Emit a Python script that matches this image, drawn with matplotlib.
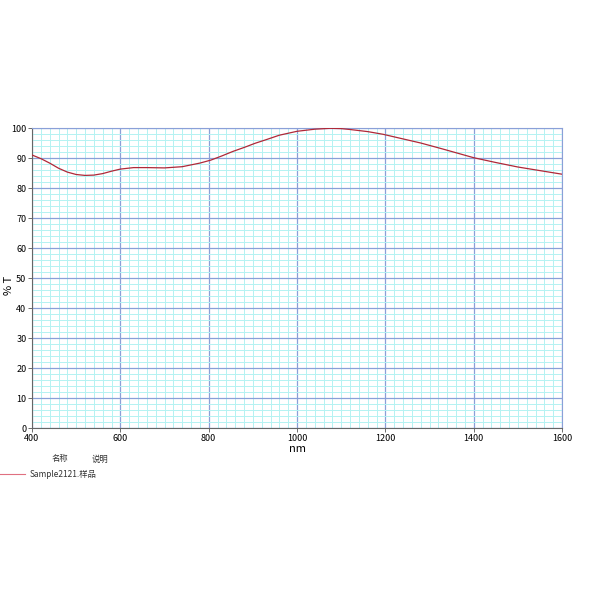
import matplotlib.pyplot as plt
from matplotlib.ticker import MultipleLocator

plt.rcParams['font.family'] = ['Noto Sans CJK SC', 'DejaVu Sans']

# wavelength (nm) and transmittance (%)
wavelength = [400, 420, 440, 460, 480, 500, 520, 540, 560, 580, 600, 630, 660, 700,
              740, 780, 805, 830, 855, 880, 905, 930, 960, 1000, 1040, 1075, 1100,
              1120, 1160, 1195, 1233, 1280, 1330, 1400, 1450, 1500, 1550, 1600]
transmit = [91.0, 89.8, 88.3, 86.6, 85.3, 84.5, 84.2, 84.3, 84.8, 85.6, 86.3, 86.8,
            86.8, 86.7, 87.1, 88.3, 89.3, 90.7, 92.2, 93.5, 94.9, 96.1, 97.6, 98.9,
            99.6, 99.9, 99.8, 99.5, 98.8, 97.9, 96.6, 95.0, 93.0, 90.1, 88.5, 87.0,
            85.8, 84.6]
x_ticks = [400, 600, 800, 1000, 1200, 1400, 1600]
y_ticks = list(range(0, 101, 10))

fig = plt.figure(figsize=(6, 6), dpi=100)
ax = fig.add_axes([32 / 600, 172 / 600, 530 / 600, 300 / 600])

ax.plot(wavelength, transmit, color='#b02838', lw=0.9, zorder=3)

ax.set_xlim(400, 1600)
ax.set_ylim(0, 100)
ax.set_xticks(x_ticks)
ax.set_yticks(y_ticks)
ax.xaxis.set_minor_locator(MultipleLocator(20))
ax.yaxis.set_minor_locator(MultipleLocator(2))
ax.grid(which='minor', color='#b4f2f2', lw=0.7, zorder=0)
ax.grid(which='major', color='#8aa0d8', lw=0.9, zorder=1)
ax.tick_params(which='minor', length=0)
ax.tick_params(which='major', length=3, width=0.6, color='#555555',
               labelsize=6.5, pad=1)
for side in ['top', 'right']:
    ax.spines[side].set_color('#8aa0d8')
for side in ['left', 'bottom']:
    ax.spines[side].set_color('#666666')
for s in ax.spines.values():
    s.set_linewidth(0.8)

ax.set_xlabel('nm', fontsize=8, labelpad=1)
fig.text(9 / 600, 1 - 285 / 600, '% T', fontsize=8, rotation=90,
         ha='center', va='center')

# legend block under the axes
fig.text(52 / 600, 1 - 459 / 600, '名称', fontsize=6, va='center', color='#333333')
fig.text(92 / 600, 1 - 459 / 600, '说明', fontsize=6, va='center', color='#333333')
fig.add_artist(plt.Line2D([0, 25 / 600], [1 - 474 / 600] * 2, color='#e07080', lw=0.8))
fig.text(30 / 600, 1 - 474 / 600, 'Sample2121.样品', fontsize=6, va='center', color='#333333')

fig.savefig('out.png', dpi=100)
